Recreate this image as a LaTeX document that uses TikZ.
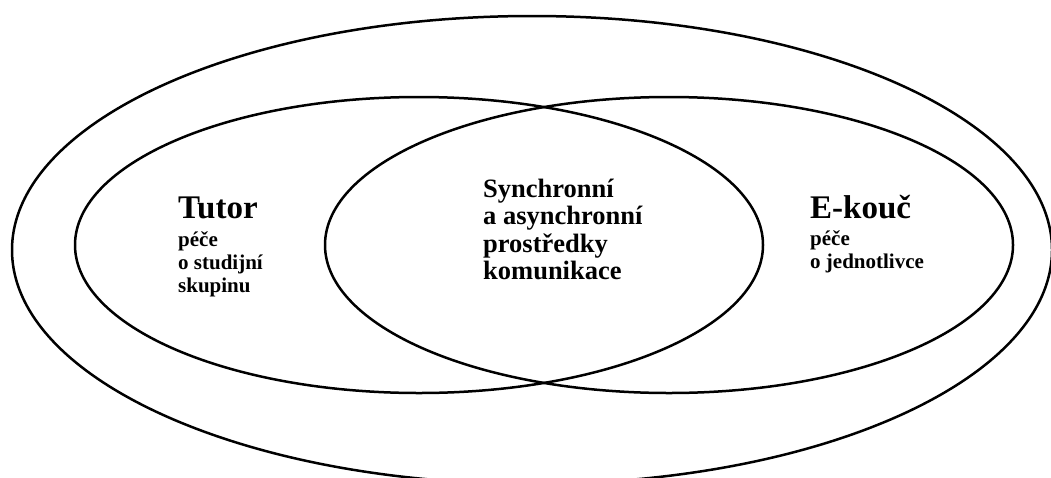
\documentclass[tikz,border=0pt]{standalone}
\usepackage{fontspec}
\setmainfont{Liberation Serif}
\usetikzlibrary{shapes.geometric}

\tikzset{
  ring/.style={ellipse, draw=black, line width=2.5pt, inner sep=0pt},
  big/.style={anchor=base west, inner sep=0pt, font=\bfseries\fontsize{33}{36}\selectfont},
  mid/.style={anchor=base west, inner sep=0pt, font=\bfseries\fontsize{26.5}{30}\selectfont},
  small/.style={anchor=base west, inner sep=0pt, font=\bfseries\fontsize{21}{24}\selectfont}
}

\begin{document}
\begin{tikzpicture}[x=1pt, y=-1pt]
  \useasboundingbox (0,0) rectangle (1051,477);
  \clip (0,0) rectangle (1051,477);

  % outer frame and the two overlapping roles
  \node[ring, minimum width=1040pt, minimum height=468pt] (outer) at (532,250) {};
  \node[ring, minimum width=688pt, minimum height=296pt] (tutorRing) at (419,245) {};
  \node[ring, minimum width=688pt, minimum height=296pt] (coachRing) at (669,245) {};

  % left role
  \node[big]   (tutor)  at (178,218) {Tutor};
  \node[small] (tutorA) at (178,246) {péče};
  \node[small] (tutorB) at (178,269) {o studijní};
  \node[small] (tutorC) at (178,292) {skupinu};

  % shared means in the overlap
  \node[mid] (midA) at (483,197)   {Synchronní};
  \node[mid] (midB) at (483,224.5) {a asynchronní};
  \node[mid] (midC) at (483,252)   {prostředky};
  \node[mid] (midD) at (483,279.5) {komunikace};

  % right role
  \node[big]   (coach)  at (810,218) {E-kouč};
  \node[small] (coachA) at (810,245) {péče};
  \node[small] (coachB) at (810,268) {o jednotlivce};
\end{tikzpicture}
\end{document}
